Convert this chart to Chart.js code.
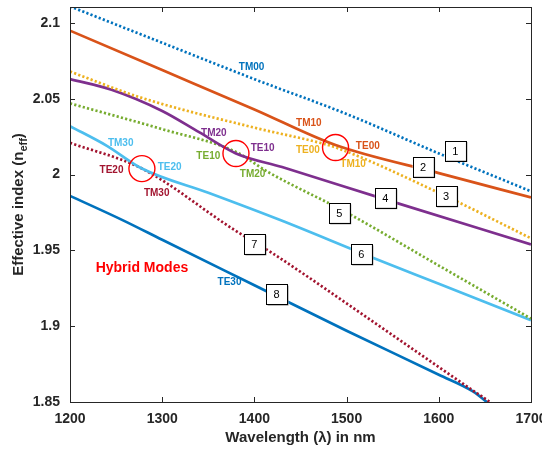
<!DOCTYPE html>
<html>
<head>
<meta charset="utf-8">
<script src="https://cdn.jsdelivr.net/npm/chart.js@4.4.1/dist/chart.umd.min.js"></script>
<style>
  html, body { margin: 0; padding: 0; background: #fff; }
  #wrap { width: 542px; height: 450px; }
</style>
</head>
<body>
<div id="wrap"><canvas id="modes"></canvas></div>
<script>
// effective index vs wavelength for each guided mode
const tm00Wl = [1200, 1300, 1400, 1500, 1600, 1700];
const tm00N  = [2.111, 2.087, 2.063, 2.040, 2.014, 1.989];

const te00Wl = [1200, 1300, 1400, 1488, 1600, 1700];
const te00N  = [2.095, 2.069, 2.043, 2.0195, 2.001, 1.985];

const tm10Wl = [1200, 1276, 1400, 1471, 1488, 1600, 1700];
const tm10N  = [2.068, 2.051, 2.031, 2.021, 2.018, 1.988, 1.958];

const te10Wl = [1200, 1245, 1300, 1340, 1380, 1430, 1540, 1700];
const te10N  = [2.063, 2.056, 2.042, 2.028, 2.014, 2.005, 1.984, 1.954];

const tm20Wl = [1200, 1300, 1380, 1414, 1500, 1600, 1700];
const tm20N  = [2.047, 2.030, 2.015, 2.002, 1.975, 1.940, 1.905];

const te20Wl = [1200, 1240, 1278, 1350, 1428, 1525, 1600, 1700];
const te20N  = [2.032, 2.019, 2.004, 1.988, 1.970, 1.946, 1.928, 1.904];

const tm30Wl = [1200, 1278, 1377, 1420, 1500, 1600, 1665];
const tm30N  = [2.021, 2.004, 1.964, 1.948, 1.915, 1.873, 1.846];

const te30Wl = [1200, 1257, 1300, 1400, 1500, 1600, 1637, 1660];
const te30N  = [1.986, 1.970, 1.957, 1.927, 1.897, 1.868, 1.857, 1.846];

const yTicks = [1.85, 1.9, 1.95, 2, 2.05, 2.1];
const yTickLabels = ['1.85', '1.9', '1.95', '2', '2.05', '2.1'];
const xTicks = [1200, 1300, 1400, 1500, 1600, 1700];

// mode names written next to the curves: [text, wavelength, n, colour]
const modeNames = [
  ['TM00', 1397, 2.0709, '#0072BD'],
  ['TM10', 1459, 2.0338, '#D95319'],
  ['TE00', 1523, 2.0185, '#D95319'],
  ['TE00', 1458, 2.0159, '#EDB120'],
  ['TM10', 1507, 2.0066, '#EDB120'],
  ['TM20', 1356, 2.0272, '#7E2F8E'],
  ['TE10', 1409, 2.0172, '#7E2F8E'],
  ['TE10', 1350, 2.0119, '#77AC30'],
  ['TM20', 1398, 2.0000, '#77AC30'],
  ['TM30', 1255, 2.0205, '#4DBEEE'],
  ['TE20', 1308, 2.0046, '#4DBEEE'],
  ['TE20', 1245, 2.0026, '#A2142F'],
  ['TM30', 1294, 1.9880, '#A2142F'],
  ['TE30', 1373, 1.9290, '#0072BD']
];

// numbered tags: [number, wavelength, n]
const curveTags = [
  ['1', 1618, 2.0159], ['2', 1583, 2.0053], ['3', 1608, 1.9860], ['4', 1542, 1.9848],
  ['5', 1492, 1.9748], ['6', 1516, 1.9477], ['7', 1400, 1.9543], ['8', 1424, 1.9212]
];

// anticrossing points
const crossings = [[1488, 2.0179], [1380, 2.0139], [1278, 2.0040]];

function pts(wl, n) {
  return wl.map((w, i) => ({ x: w, y: n[i] }));
}

function line(data, color, dotted) {
  return {
    data: data,
    borderColor: color,
    borderWidth: 2.7,
    borderDash: dotted ? [2.2, 2.2] : [],
    borderCapStyle: 'butt',
    pointRadius: 0,
    cubicInterpolationMode: 'monotone',
    fill: false
  };
}

const txt = '#262626';

const decor = {
  id: 'decor',
  afterDatasetsDraw(chart) {
    const c = chart.ctx;
    const xs = chart.scales.x, ys = chart.scales.y;
    const a = chart.chartArea;
    c.save();

    // mode names
    c.font = 'bold 10px "Liberation Sans", Arial, sans-serif';
    c.textAlign = 'center';
    c.textBaseline = 'middle';
    modeNames.forEach(([t, w, n, col]) => {
      c.fillStyle = col;
      c.fillText(t, xs.getPixelForValue(w), ys.getPixelForValue(n));
    });

    // red circles
    c.strokeStyle = '#FF0000';
    c.lineWidth = 1.4;
    crossings.forEach(([w, n]) => {
      c.beginPath();
      c.arc(xs.getPixelForValue(w), ys.getPixelForValue(n), 13, 0, Math.PI * 2);
      c.stroke();
    });

    // numbered tags
    c.font = '11px "Liberation Sans", Arial, sans-serif';
    curveTags.forEach(([t, w, n]) => {
      const px = xs.getPixelForValue(w), py = ys.getPixelForValue(n);
      const bw = 21, bh = 20;
      c.fillStyle = '#8c8c8c';
      c.fillRect(px - bw / 2 + 1.5, py - bh / 2 + 1.5, bw, bh);
      c.fillStyle = '#fff';
      c.fillRect(px - bw / 2, py - bh / 2, bw, bh);
      c.strokeStyle = '#000';
      c.lineWidth = 1;
      c.strokeRect(Math.round(px - bw / 2) + 0.5, Math.round(py - bh / 2) + 0.5, bw, bh);
      c.fillStyle = '#000';
      c.fillText(t, px, py + 1);
    });

    c.fillStyle = '#FF0000';
    c.font = 'bold 14px "Liberation Sans", Arial, sans-serif';
    c.fillText('Hybrid Modes', xs.getPixelForValue(1278), ys.getPixelForValue(1.938));

    // axes box with inward ticks
    c.strokeStyle = txt;
    c.lineWidth = 1;
    c.strokeRect(Math.round(a.left) + 0.5, Math.round(a.top) + 0.5,
      Math.round(a.right - a.left), Math.round(a.bottom - a.top));
    c.beginPath();
    xTicks.forEach(v => {
      const px = Math.round(xs.getPixelForValue(v)) + 0.5;
      c.moveTo(px, a.bottom); c.lineTo(px, a.bottom - 5);
      c.moveTo(px, a.top); c.lineTo(px, a.top + 5);
    });
    yTicks.forEach(v => {
      const py = Math.round(ys.getPixelForValue(v)) + 0.5;
      c.moveTo(a.left, py); c.lineTo(a.left + 5, py);
      c.moveTo(a.right, py); c.lineTo(a.right - 5, py);
    });
    c.stroke();

    // y title with subscript
    c.translate(19, (a.top + a.bottom) / 2);
    c.rotate(-Math.PI / 2);
    c.fillStyle = txt;
    const main = 'Effective index (n';
    const big = 'bold 15px "Liberation Sans", Arial, sans-serif';
    const small = 'bold 11px "Liberation Sans", Arial, sans-serif';
    c.font = big;
    const w1 = c.measureText(main).width;
    c.font = small;
    const w2 = c.measureText('eff').width;
    c.font = big;
    const w3 = c.measureText(')').width;
    let x0 = -(w1 + w2 + w3) / 2;
    c.textAlign = 'left';
    c.fillText(main, x0, 0);
    c.font = small;
    c.fillText('eff', x0 + w1, 5);
    c.font = big;
    c.fillText(')', x0 + w1 + w2, 0);

    c.restore();
  }
};

new Chart(document.getElementById('modes'), {
  type: 'line',
  data: {
    datasets: [
      line(pts(tm00Wl, tm00N), '#0072BD', true),
      line(pts(te00Wl, te00N), '#D95319', false),
      line(pts(tm10Wl, tm10N), '#EDB120', true),
      line(pts(te10Wl, te10N), '#7E2F8E', false),
      line(pts(tm20Wl, tm20N), '#77AC30', true),
      line(pts(te20Wl, te20N), '#4DBEEE', false),
      line(pts(tm30Wl, tm30N), '#A2142F', true),
      line(pts(te30Wl, te30N), '#0072BD', false)
    ]
  },
  options: {
    responsive: true,
    maintainAspectRatio: false,
    animation: false,
    layout: { padding: { top: 7, right: 11, left: 0, bottom: 0 } },
    plugins: { legend: { display: false }, tooltip: { enabled: false } },
    scales: {
      x: {
        type: 'linear',
        min: 1200,
        max: 1700,
        afterBuildTicks: s => { s.ticks = xTicks.map(v => ({ value: v })); },
        afterFit: s => { s.height = 48; s.paddingLeft = 0; s.paddingRight = 0; },
        grid: { display: false, drawTicks: false },
        border: { display: false },
        ticks: {
          padding: 9,
          color: txt,
          font: { family: '"Liberation Sans", Arial', size: 14, weight: 'bold' },
          maxRotation: 0,
          callback: v => String(v)
        },
        title: {
          display: true,
          text: 'Wavelength (λ) in nm',
          color: txt,
          font: { family: '"Liberation Sans", Arial', size: 15, weight: 'bold' },
          padding: { top: 0, bottom: 3 }
        }
      },
      y: {
        min: 1.85,
        max: 2.1106,
        afterBuildTicks: s => { s.ticks = yTicks.map(v => ({ value: v })); },
        afterFit: s => { s.width = 70; s.paddingTop = 0; s.paddingBottom = 0; },
        grid: { display: false, drawTicks: false },
        border: { display: false },
        ticks: {
          padding: 10,
          color: txt,
          font: { family: '"Liberation Sans", Arial', size: 14, weight: 'bold' },
          callback: v => yTickLabels[yTicks.indexOf(v)] ?? ''
        }
      }
    }
  },
  plugins: [decor]
});
</script>
</body>
</html>
